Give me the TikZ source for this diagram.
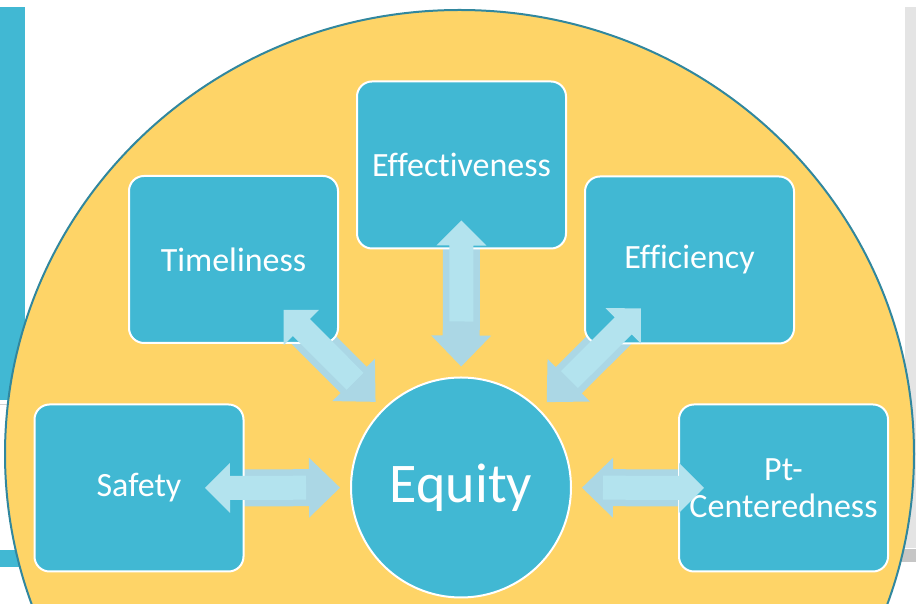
\documentclass[tikz,border=0pt]{standalone}
\usepackage{fontspec}
\setmainfont{Carlito}[Ligatures=NoCommon]
\usepackage{tikz}
\usetikzlibrary{positioning,backgrounds}
\definecolor{boxteal}{HTML}{41B8D3}
\definecolor{rimteal}{HTML}{31879E}
\definecolor{domeyellow}{HTML}{FED467}
\definecolor{armlight}{HTML}{B3E3EE}
\definecolor{armdark}{HTML}{ABD7E5}
\definecolor{sidegray}{HTML}{E4E4E4}
\tikzset{
  dimbox/.style={draw=white, line width=2pt, fill=boxteal, rounded corners=15pt, minimum width=209pt, minimum height=167pt, inner sep=2pt, text=white, align=center, font=\fontsize{34}{37}\selectfont},
  hubnode/.style={circle, draw=white, line width=2pt, fill=boxteal, minimum size=220pt, inner sep=0pt, text=white, font=\fontsize{56}{60}\selectfont},
  lightarm/.style={fill=armlight},
  darkarm/.style={fill=armdark}
}
% #1 = outer box, #2 = how far out from the hub the outward tip reaches
\newcommand{\twinarrow}[2]{%
  \pgfmathanglebetweenpoints{\pgfpointanchor{hub}{center}}{\pgfpointanchor{#1}{center}}%
  \let\armangle\pgfmathresult
  \begin{pgfonlayer}{background}
    \fill[darkarm, shift={(hub.center)}, rotate=\armangle]
      (121,0) -- (152,30) -- (152,18.5) -- (#2-25,18.5) -- (#2-25,-18.5) -- (152,-18.5) -- (152,-30) -- cycle;
  \end{pgfonlayer}
  \fill[lightarm, shift={(hub.center)}, rotate=\armangle]
    (#2,0) -- (#2-25,25) -- (#2-25,12) -- (#2-101,12) -- (#2-101,-12) -- (#2-25,-12) -- (#2-25,-25) -- cycle;
}

\begin{document}
\begin{tikzpicture}[x=1pt, y=1pt]
  \useasboundingbox (0,0) rectangle (916,604);
  \begin{pgfonlayer}{background}
    % slide edges behind the dome
    \fill[boxteal] (0,204) rectangle (25,597);
    \draw[gray!35, line width=1pt] (0,199) -- (40,199);
    \fill[boxteal] (0,37) rectangle (60,54);
    \fill[sidegray] (905,56) rectangle (916,597);
    \fill[gray!45] (880,42) rectangle (916,55);
    \fill[domeyellow, draw=rimteal, line width=2pt] (459.5,150) ellipse [x radius=454.5pt, y radius=444pt];
  \end{pgfonlayer}

  \node[hubnode] (hub) at (461,116.5) {Equity};
  \node[dimbox] (effect) at (461.5,439) {Effectiveness};
  \node[dimbox] (timely) at (233.5,344.5) {Timeliness};
  \node[dimbox] (effic) at (689.5,344) {Efficiency};
  \node[dimbox] (safety) at (139,116) {Safety};
  \node[dimbox] (ptcent) at (783.5,116) {Pt-\\Centeredness};

  \twinarrow{effect}{267}
  \twinarrow{timely}{251}
  \twinarrow{effic}{254}
  \twinarrow{safety}{256}
  \twinarrow{ptcent}{243}
\end{tikzpicture}
\end{document}
